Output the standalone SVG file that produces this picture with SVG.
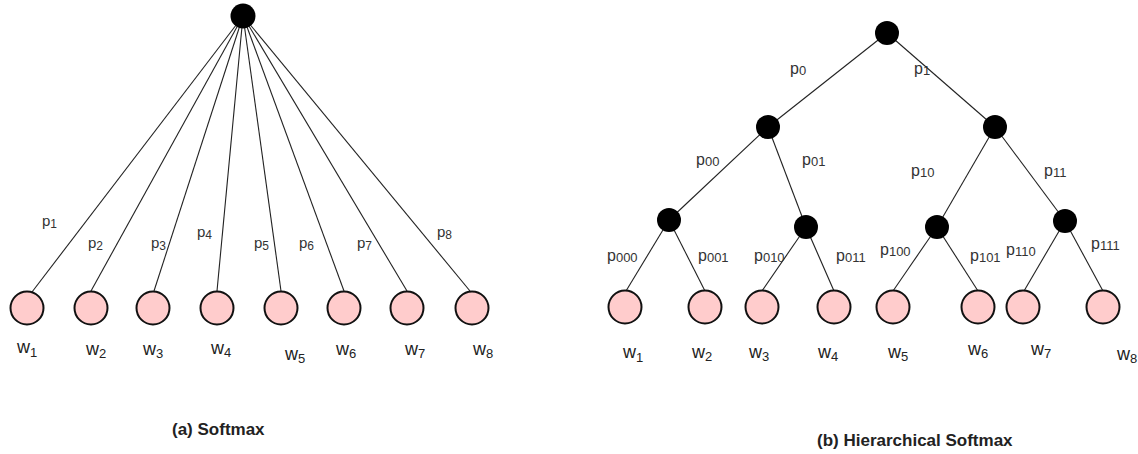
<svg xmlns="http://www.w3.org/2000/svg" width="1138" height="454" viewBox="0 0 1138 454">
<style>
.edge{stroke:#222;stroke-width:1.1;fill:none}
.inner{fill:#000;stroke:none}
.leaf{fill:#ffcccc;stroke:#111;stroke-width:2}
.pl{font-family:"Liberation Sans",Arial,sans-serif;font-size:15px;fill:#333}
.pr{font-family:"Liberation Sans Narrow","Liberation Sans",Arial,sans-serif;font-size:16px;fill:#333}
.sub{font-size:12px}
.subr{font-size:13px}
.wl{font-family:"Liberation Sans",Arial,sans-serif;font-size:18px;fill:#222}
.ws{font-size:13px}
.title{font-family:"Liberation Sans",Arial,sans-serif;font-size:17px;font-weight:bold;fill:#222}
</style>
<rect width="1138" height="454" fill="#fff"/>

<g id="connectors">
  <line class="edge" x1="243" y1="16" x2="32" y2="292"/>
  <line class="edge" x1="243" y1="16" x2="91" y2="291"/>
  <line class="edge" x1="243" y1="16" x2="154" y2="291"/>
  <line class="edge" x1="243" y1="16" x2="217" y2="291"/>
  <line class="edge" x1="243" y1="16" x2="281" y2="291"/>
  <line class="edge" x1="243" y1="16" x2="344" y2="291"/>
  <line class="edge" x1="243" y1="16" x2="407" y2="291"/>
  <line class="edge" x1="243" y1="16" x2="470" y2="291"/>
  <line class="edge" x1="887" y1="33" x2="768" y2="127"/>
  <line class="edge" x1="887" y1="33" x2="995" y2="127"/>
  <line class="edge" x1="768" y1="127" x2="669" y2="220"/>
  <line class="edge" x1="768" y1="127" x2="806" y2="227"/>
  <line class="edge" x1="995" y1="127" x2="937" y2="227"/>
  <line class="edge" x1="995" y1="127" x2="1065" y2="221"/>
  <line class="edge" x1="669" y1="220" x2="626" y2="291"/>
  <line class="edge" x1="669" y1="220" x2="705" y2="291"/>
  <line class="edge" x1="806" y1="227" x2="762" y2="291"/>
  <line class="edge" x1="806" y1="227" x2="834" y2="291"/>
  <line class="edge" x1="937" y1="227" x2="893" y2="291"/>
  <line class="edge" x1="937" y1="227" x2="978" y2="291"/>
  <line class="edge" x1="1065" y1="221" x2="1024" y2="291"/>
  <line class="edge" x1="1065" y1="221" x2="1103" y2="291"/>
</g>

<g id="edge-labels">
  <text class="pl" x="42" y="226">p<tspan class="sub" dy="2">1</tspan></text>
  <text class="pl" x="88" y="248">p<tspan class="sub" dy="2">2</tspan></text>
  <text class="pl" x="151" y="248">p<tspan class="sub" dy="2">3</tspan></text>
  <text class="pl" x="197" y="237">p<tspan class="sub" dy="2">4</tspan></text>
  <text class="pl" x="254" y="248">p<tspan class="sub" dy="2">5</tspan></text>
  <text class="pl" x="299" y="248">p<tspan class="sub" dy="2">6</tspan></text>
  <text class="pl" x="357" y="248">p<tspan class="sub" dy="2">7</tspan></text>
  <text class="pl" x="437" y="237">p<tspan class="sub" dy="2">8</tspan></text>

  <text class="pr" x="790" y="74">p<tspan class="subr" dy="1">0</tspan></text>
  <text class="pr" x="914" y="74">p<tspan class="subr" dy="1">1</tspan></text>
  <text class="pr" x="696" y="165">p<tspan class="subr" dy="1">00</tspan></text>
  <text class="pr" x="802" y="165">p<tspan class="subr" dy="1">01</tspan></text>
  <text class="pr" x="911" y="176">p<tspan class="subr" dy="1">10</tspan></text>
  <text class="pr" x="1044" y="176">p<tspan class="subr" dy="1">11</tspan></text>
  <text class="pr" x="607" y="261">p<tspan class="subr" dy="1">000</tspan></text>
  <text class="pr" x="698" y="261">p<tspan class="subr" dy="1">001</tspan></text>
  <text class="pr" x="754" y="261">p<tspan class="subr" dy="1">010</tspan></text>
  <text class="pr" x="836" y="261">p<tspan class="subr" dy="1">011</tspan></text>
  <text class="pr" x="880" y="255">p<tspan class="subr" dy="1">100</tspan></text>
  <text class="pr" x="970" y="261">p<tspan class="subr" dy="1">101</tspan></text>
  <text class="pr" x="1006" y="255">p<tspan class="subr" dy="1">110</tspan></text>
  <text class="pr" x="1091" y="249">p<tspan class="subr" dy="1">111</tspan></text>
</g>

<g id="a-root"><circle class="inner" cx="243" cy="16" r="12.5"/></g>
<g id="a-w1"><circle class="leaf" cx="27" cy="308" r="16.5"/><text class="wl" x="17" y="353">w<tspan class="ws" dy="4">1</tspan></text></g>
<g id="a-w2"><circle class="leaf" cx="91" cy="308" r="16.5"/><text class="wl" x="86" y="355">w<tspan class="ws" dy="3">2</tspan></text></g>
<g id="a-w3"><circle class="leaf" cx="153" cy="308" r="16.5"/><text class="wl" x="143" y="355">w<tspan class="ws" dy="3">3</tspan></text></g>
<g id="a-w4"><circle class="leaf" cx="217" cy="308" r="16.5"/><text class="wl" x="211" y="354">w<tspan class="ws" dy="3">4</tspan></text></g>
<g id="a-w5"><circle class="leaf" cx="281" cy="308" r="16.5"/><text class="wl" x="285" y="360">w<tspan class="ws" dy="3">5</tspan></text></g>
<g id="a-w6"><circle class="leaf" cx="344" cy="308" r="16.5"/><text class="wl" x="336" y="355">w<tspan class="ws" dy="3">6</tspan></text></g>
<g id="a-w7"><circle class="leaf" cx="407" cy="308" r="16.5"/><text class="wl" x="405" y="355">w<tspan class="ws" dy="3">7</tspan></text></g>
<g id="a-w8"><circle class="leaf" cx="472" cy="308" r="16.5"/><text class="wl" x="473" y="355">w<tspan class="ws" dy="3">8</tspan></text></g>

<g id="b-root"><circle class="inner" cx="887" cy="33" r="12"/></g>
<g id="b-n0"><circle class="inner" cx="768" cy="127" r="12"/></g>
<g id="b-n1"><circle class="inner" cx="995" cy="127" r="12"/></g>
<g id="b-n00"><circle class="inner" cx="669" cy="220" r="12"/></g>
<g id="b-n01"><circle class="inner" cx="806" cy="227" r="12"/></g>
<g id="b-n10"><circle class="inner" cx="937" cy="227" r="12"/></g>
<g id="b-n11"><circle class="inner" cx="1065" cy="221" r="12"/></g>
<g id="b-w1"><circle class="leaf" cx="625" cy="307" r="16.5"/><text class="wl" x="623" y="358">w<tspan class="ws" dy="4">1</tspan></text></g>
<g id="b-w2"><circle class="leaf" cx="705" cy="307" r="16.5"/><text class="wl" x="692" y="358">w<tspan class="ws" dy="3">2</tspan></text></g>
<g id="b-w3"><circle class="leaf" cx="762" cy="307" r="16.5"/><text class="wl" x="749" y="358">w<tspan class="ws" dy="3">3</tspan></text></g>
<g id="b-w4"><circle class="leaf" cx="834" cy="307" r="16.5"/><text class="wl" x="818" y="358">w<tspan class="ws" dy="3">4</tspan></text></g>
<g id="b-w5"><circle class="leaf" cx="893" cy="307" r="16.5"/><text class="wl" x="888" y="358">w<tspan class="ws" dy="3">5</tspan></text></g>
<g id="b-w6"><circle class="leaf" cx="978" cy="307" r="16.5"/><text class="wl" x="968" y="355">w<tspan class="ws" dy="3">6</tspan></text></g>
<g id="b-w7"><circle class="leaf" cx="1023" cy="307" r="16.5"/><text class="wl" x="1031" y="355">w<tspan class="ws" dy="3">7</tspan></text></g>
<g id="b-w8"><circle class="leaf" cx="1103" cy="307" r="16.5"/><text class="wl" x="1117" y="360">w<tspan class="ws" dy="3">8</tspan></text></g>

<g id="titles">
  <text class="title" x="172" y="435">(a) Softmax</text>
  <text class="title" x="817" y="446">(b) Hierarchical Softmax</text>
</g>
</svg>
